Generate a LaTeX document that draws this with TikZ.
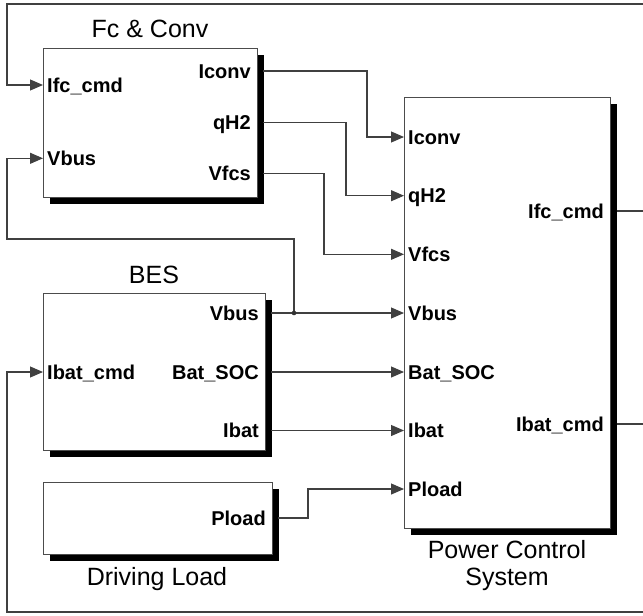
\documentclass[tikz,border=0pt]{standalone}
\usepackage{fontspec}
\setmainfont{Liberation Sans}
\usetikzlibrary{arrows.meta,shadows}
\begin{document}
\begin{tikzpicture}[x=1pt,y=-1pt,
  blk/.style={draw=black!70, line width=1pt, fill=white, inner sep=0pt, outer sep=0pt, anchor=north west,
    drop shadow={shadow xshift=6.5pt, shadow yshift=-6.5pt, fill=black, opacity=1}},
  pin/.style={font=\fontsize{20}{20}\selectfont\bfseries, inner sep=0pt},
  pinin/.style={pin, anchor=base west},
  pinout/.style={pin, anchor=base east},
  ttl/.style={font=\fontsize{25}{27}\selectfont, inner sep=0pt, align=center},
  wire/.style={draw=black!75, line width=1.1pt},
  arr/.style={wire, -{Triangle[length=13pt,width=11pt]}}]

\useasboundingbox (0,0) rectangle (643,616);

% blocks
\node[blk, minimum width=214pt, minimum height=149pt] (fc) at (43,48) {};
\node[blk, minimum width=222pt, minimum height=157pt] (bes) at (43,293) {};
\node[blk, minimum width=229pt, minimum height=72pt] (dl) at (43,482) {};
\node[blk, minimum width=206pt, minimum height=431pt] (pcs) at (404,97) {};

% titles
\node[ttl, anchor=base] (fct) at (150,37.5) {Fc \& Conv};
\node[ttl, anchor=base] (best) at (154,283) {BES};
\node[ttl, anchor=base] (dlt) at (157,585) {Driving Load};
\node[ttl, anchor=north] (pcst) at (507,540.5) {Power Control\\System};

% port labels: Fc & Conv
\node[pinin] (fcl1) at (47,92) {Ifc\_cmd};
\node[pinin] (fcl2) at (47,165.3) {Vbus};
\node[pinout] (fcl3) at (251,78) {Iconv};
\node[pinout] (fcl4) at (251,129.5) {qH2};
\node[pinout] (fcl5) at (251,180.3) {Vfcs};
% BES
\node[pinin] (besl1) at (47,379) {Ibat\_cmd};
\node[pinout] (besl2) at (259,320) {Vbus};
\node[pinout] (besl3) at (259,379) {Bat\_SOC};
\node[pinout] (besl4) at (259,437.5) {Ibat};
% Driving load
\node[pinout] (dll1) at (266,525) {Pload};
% PCS
\node[pinin] (pl1) at (408,144) {Iconv};
\node[pinin] (pl2) at (408,202.7) {qH2};
\node[pinin] (pl3) at (408,261.3) {Vfcs};
\node[pinin] (pl4) at (408,320) {Vbus};
\node[pinin] (pl5) at (408,379) {Bat\_SOC};
\node[pinin] (pl6) at (408,437.5) {Ibat};
\node[pinin] (pl7) at (408,496) {Pload};
\node[pinout] (pl8) at (604,218) {Ifc\_cmd};
\node[pinout] (pl9) at (604,431) {Ibat\_cmd};

% port coordinates
\coordinate (fcI1) at (43,85);
\coordinate (fcI2) at (43,158.3);
\coordinate (fcO1) at (263,71);
\coordinate (fcO2) at (263,122.5);
\coordinate (fcO3) at (263,173.3);
\coordinate (besI1) at (43,372);
\coordinate (besO1) at (271,313);
\coordinate (besO2) at (271,372);
\coordinate (besO3) at (271,430.5);
\coordinate (dlO1) at (278,518);
\coordinate (pI1) at (404,137);
\coordinate (pI2) at (404,195.7);
\coordinate (pI3) at (404,254.3);
\coordinate (pI4) at (404,313);
\coordinate (pI5) at (404,372);
\coordinate (pI6) at (404,430.5);
\coordinate (pI7) at (404,489);
\coordinate (pO1) at (616.5,211);
\coordinate (pO2) at (616.5,424);
\coordinate (junc) at (294,313);

% connectors
\draw[arr] (fcO1) -| (367,104) |- (pI1);
\draw[arr] (fcO2) -| (346,160) |- (pI2);
\draw[arr] (fcO3) -| (324,210) |- (pI3);
\draw[arr] (besO1) -- (pI4);
\draw[arr] (besO2) -- (pI5);
\draw[arr] (besO3) -- (pI6);
\draw[arr] (dlO1) -| (308,500) |- (pI7);
\draw[arr] (junc) -- (294,239) -- (7,239) -- (7,158.3) -- (fcI2);
\fill[black!80] (junc) circle (2.3);
\draw[arr] (pO1) -- (647,211) -- (647,4) -- (7,4) -- (7,85) -- (fcI1);
\draw[arr] (pO2) -- (647,424) -- (647,612) -- (7,612) -- (7,372) -- (besI1);
\end{tikzpicture}
\end{document}
